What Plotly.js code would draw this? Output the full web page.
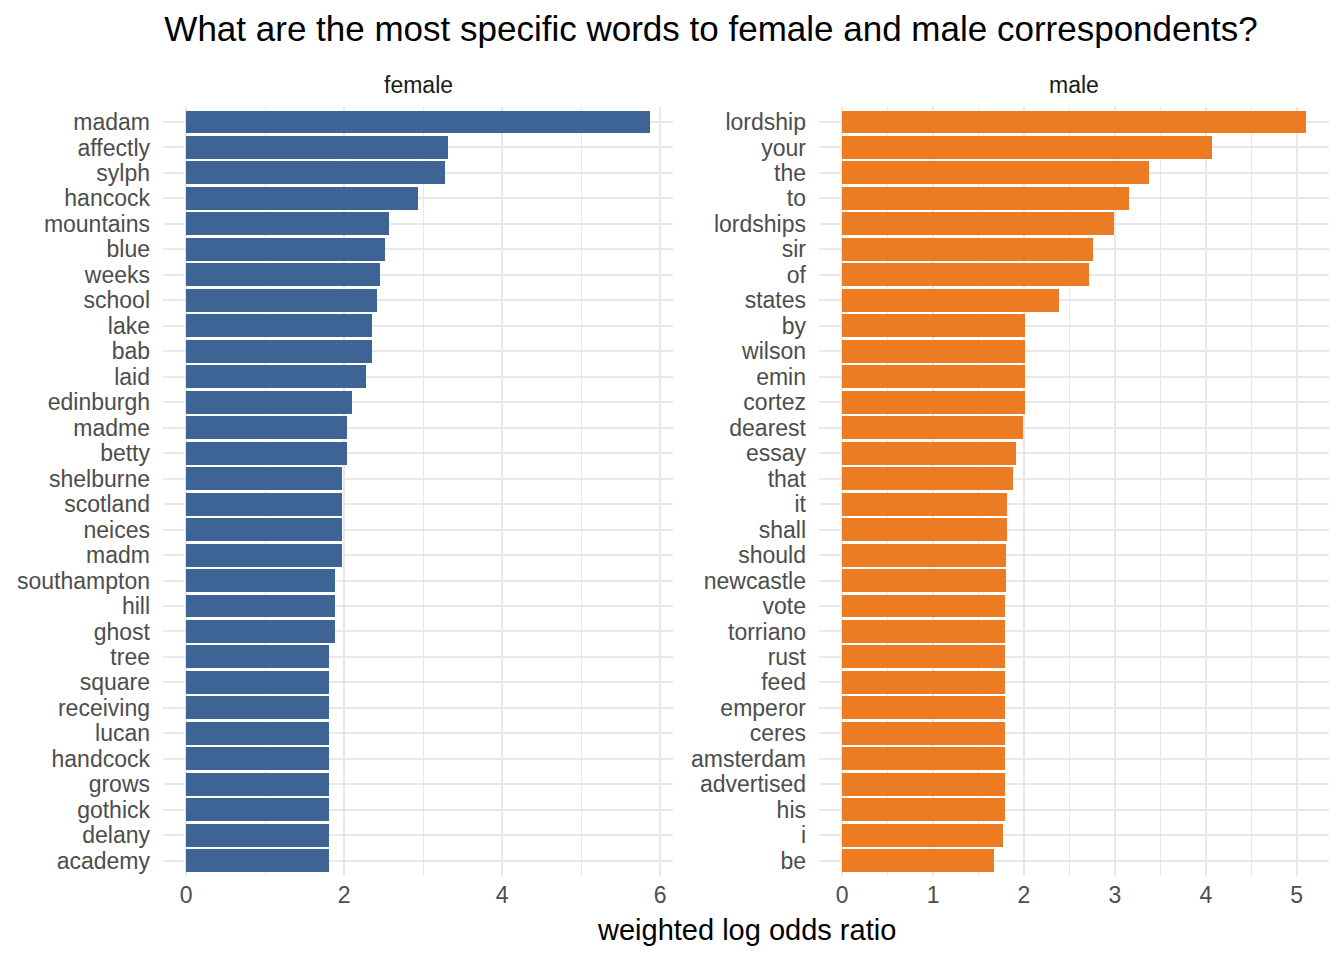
<!DOCTYPE html>
<html>
<head>
<meta charset="utf-8">
<script src="https://cdn.plot.ly/plotly-3.0.1.min.js"></script>
<style>
  html, body { margin: 0; padding: 0; background: #fff; }
  #chart { width: 1344px; height: 960px; }
</style>
</head>
<body>
<div id="chart"></div>
<script>
var CHART_TITLE = "What are the most specific words to female and male correspondents?";
var PANEL_LABELS = ["female", "male"];
var X_TITLE = "weighted log odds ratio";

var femaleWords = ["madam", "affectly", "sylph", "hancock", "mountains", "blue", "weeks", "school",
  "lake", "bab", "laid", "edinburgh", "madme", "betty", "shelburne", "scotland", "neices", "madm",
  "southampton", "hill", "ghost", "tree", "square", "receiving", "lucan", "handcock", "grows",
  "gothick", "delany", "academy"];
var femaleValues = [5.87, 3.32, 3.28, 2.93, 2.57, 2.52, 2.46, 2.41,
  2.35, 2.35, 2.28, 2.10, 2.03, 2.03, 1.97, 1.97, 1.97, 1.97,
  1.89, 1.89, 1.89, 1.81, 1.81, 1.81, 1.81, 1.81, 1.81,
  1.81, 1.81, 1.81];

var maleWords = ["lordship", "your", "the", "to", "lordships", "sir", "of", "states",
  "by", "wilson", "emin", "cortez", "dearest", "essay", "that", "it", "shall", "should",
  "newcastle", "vote", "torriano", "rust", "feed", "emperor", "ceres", "amsterdam", "advertised",
  "his", "i", "be"];
var maleValues = [5.10, 4.07, 3.37, 3.15, 2.99, 2.76, 2.72, 2.38,
  2.01, 2.01, 2.01, 2.01, 1.99, 1.91, 1.88, 1.81, 1.81, 1.80,
  1.80, 1.79, 1.79, 1.79, 1.79, 1.79, 1.79, 1.79, 1.79,
  1.79, 1.77, 1.67];

var FONT = "Liberation Sans, Arial, Helvetica, sans-serif";
var GRID = "#E8E8E8";
var W = 1344, H = 960;

function px(x) { return x / W; }
function py(y) { return 1 - y / H; }

function xAxis(max, dtick, minorTick, domain, anchor) {
  return {
    domain: domain,
    anchor: anchor,
    range: [-0.05 * max, 1.05 * max],
    dtick: dtick,
    tick0: 0,
    showgrid: true,
    gridcolor: GRID,
    gridwidth: 2,
    minor: { dtick: minorTick, tick0: 0, showgrid: true, gridcolor: GRID, gridwidth: 1 },
    zeroline: false,
    showline: false,
    ticks: "",
    ticklabelstandoff: 3,
    tickfont: { family: FONT, size: 23, color: "#4D4D4D" },
    fixedrange: true
  };
}

function yAxis(words, domain, anchor) {
  return {
    domain: domain,
    anchor: anchor,
    type: "category",
    range: [words.length - 0.4, -0.6],
    tickmode: "array",
    tickvals: words,
    ticktext: words,
    showgrid: true,
    gridcolor: GRID,
    gridwidth: 2,
    zeroline: false,
    showline: false,
    ticks: "",
    ticklabelstandoff: 12,
    tickfont: { family: FONT, size: 23, color: "#4D4D4D" },
    fixedrange: true
  };
}

function draw() {
  var yDom = [py(876), py(106.7)];
  var xDomL = [px(163), px(673)];
  var xDomR = [px(819), px(1329)];

  var female = {
    type: "bar",
    orientation: "h",
    x: femaleValues,
    y: femaleWords,
    width: 0.9,
    marker: { color: "#3E6496", line: { width: 0 } },
    xaxis: "x",
    yaxis: "y",
    hoverinfo: "x+y"
  };
  var male = {
    type: "bar",
    orientation: "h",
    x: maleValues,
    y: maleWords,
    width: 0.9,
    marker: { color: "#EC7C24", line: { width: 0 } },
    xaxis: "x2",
    yaxis: "y2",
    hoverinfo: "x+y"
  };

  var layout = {
    width: W,
    height: H,
    margin: { l: 0, r: 0, t: 0, b: 0 },
    paper_bgcolor: "#FFFFFF",
    plot_bgcolor: "rgba(0,0,0,0)",
    showlegend: false,
    bargap: 0,
    title: {
      text: CHART_TITLE,
      x: px(711),
      xanchor: "center",
      xref: "paper",
      y: py(29),
      yanchor: "middle",
      yref: "paper",
      font: { family: FONT, size: 35, color: "#000000" }
    },
    xaxis: xAxis(Math.max.apply(null, femaleValues), 2, 1, xDomL, "y"),
    yaxis: yAxis(femaleWords, yDom, "x"),
    xaxis2: xAxis(Math.max.apply(null, maleValues), 1, 0.5, xDomR, "y2"),
    yaxis2: yAxis(maleWords, yDom, "x2"),
    annotations: [
      {
        text: PANEL_LABELS[0], xref: "paper", yref: "paper",
        x: (xDomL[0] + xDomL[1]) / 2, y: py(85), xanchor: "center", yanchor: "middle",
        showarrow: false, font: { family: FONT, size: 23, color: "#1A1A1A" }
      },
      {
        text: PANEL_LABELS[1], xref: "paper", yref: "paper",
        x: (xDomR[0] + xDomR[1]) / 2, y: py(85), xanchor: "center", yanchor: "middle",
        showarrow: false, font: { family: FONT, size: 23, color: "#1A1A1A" }
      },
      {
        text: X_TITLE, xref: "paper", yref: "paper",
        x: (xDomL[0] + xDomR[1]) / 2, y: py(930), xanchor: "center", yanchor: "middle",
        showarrow: false, font: { family: FONT, size: 29, color: "#000000" }
      }
    ]
  };

  Plotly.newPlot("chart", [female, male], layout, { displayModeBar: false, staticPlot: true });
}

draw();
</script>
</body>
</html>
